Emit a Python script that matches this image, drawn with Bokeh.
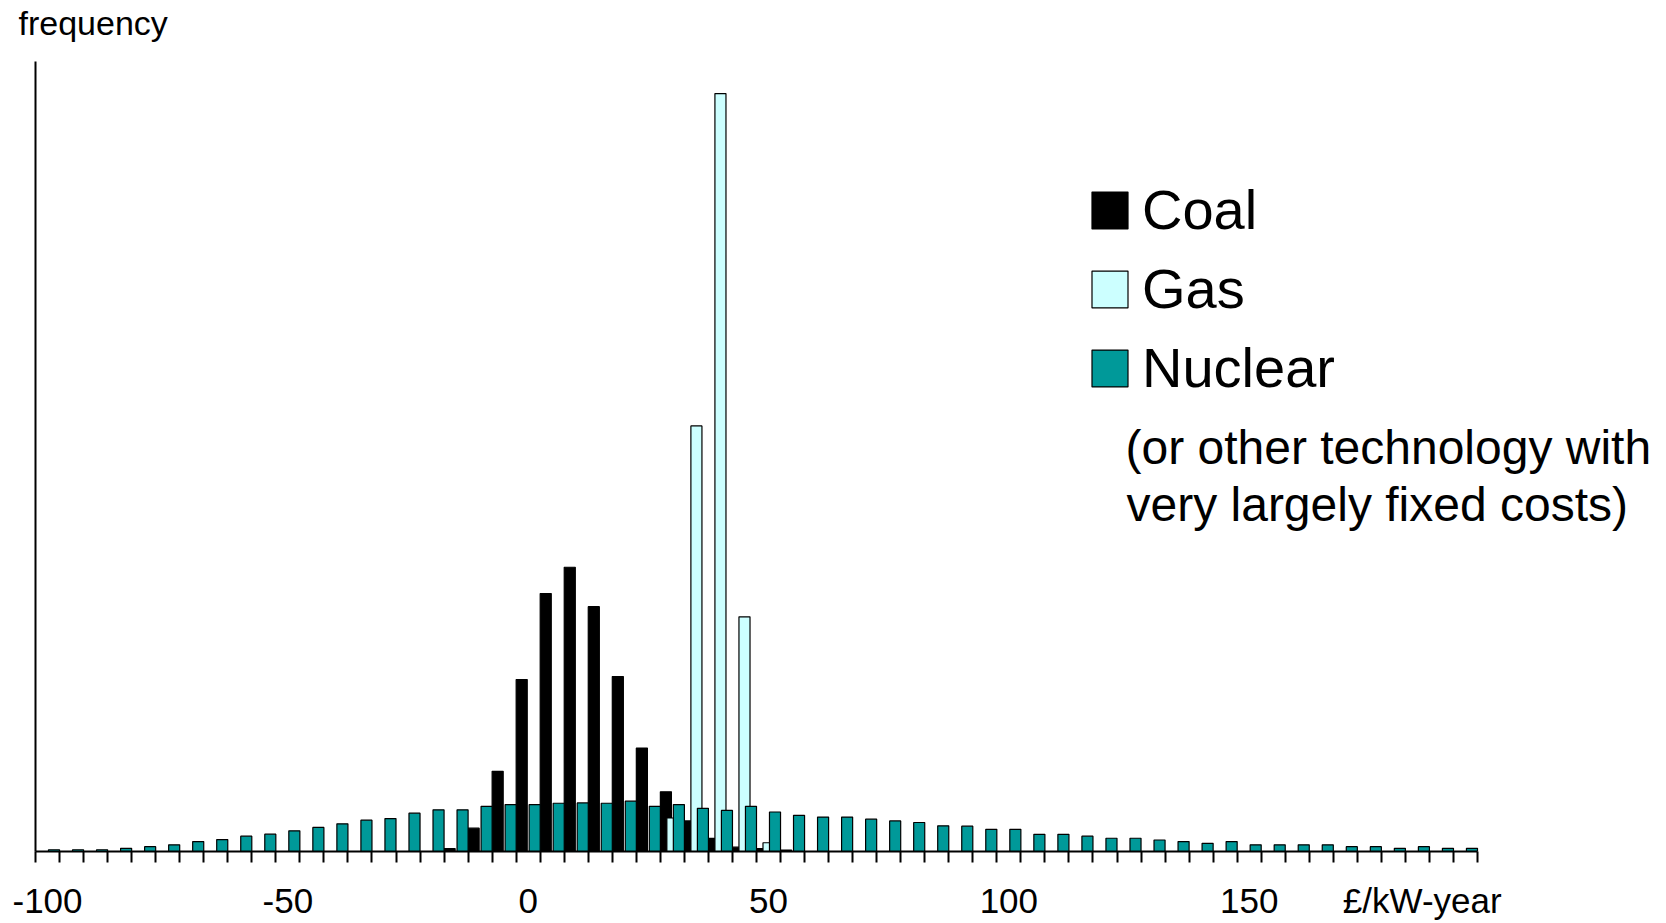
from bokeh.plotting import figure
from bokeh.models import (ColumnDataSource, Range1d, LinearAxis, FixedTicker,
                          Legend, LegendItem, Label)
from bokeh.transform import dodge
from bokeh.embed import file_html
from bokeh.resources import INLINE

# ---- data (frequency, % of cases per 5 £/kW-year bin) ----
bins = [-100, -95, -90, -85, -80, -75, -70, -65, -60, -55,
        -50, -45, -40, -35, -30, -25, -20, -15, -10, -5,
        0, 5, 10, 15, 20, 25, 30, 35, 40, 45,
        50, 55, 60, 65, 70, 75, 80, 85, 90, 95,
        100, 105, 110, 115, 120, 125, 130, 135, 140, 145,
        150, 155, 160, 165, 170, 175, 180, 185, 190, 195]

coal = [0, 0, 0, 0, 0, 0, 0, 0, 0, 0,
        0, 0, 0, 0, 0, 0, 0, 0.2, 1.6, 5.5,
        11.8, 17.7, 19.5, 16.8, 12.0, 7.1, 4.1, 2.1, 0.9, 0.3,
        0.2, 0.1, 0, 0, 0, 0, 0, 0, 0, 0,
        0, 0, 0, 0, 0, 0, 0, 0, 0, 0,
        0, 0, 0, 0, 0, 0, 0, 0, 0, 0]

gas = [0, 0, 0, 0, 0, 0, 0, 0, 0, 0,
       0, 0, 0, 0, 0, 0, 0, 0, 0, 0,
       0, 0, 0, 0, 0, 0, 2.3, 29.2, 52.0, 16.1,
       0.6, 0, 0, 0, 0, 0, 0, 0, 0, 0,
       0, 0, 0, 0, 0, 0, 0, 0, 0, 0,
       0, 0, 0, 0, 0, 0, 0, 0, 0, 0]

nuclear = [0.12, 0.12, 0.12, 0.22, 0.33, 0.46, 0.68, 0.82, 1.05, 1.19,
           1.42, 1.65, 1.90, 2.15, 2.26, 2.63, 2.86, 2.86, 3.10, 3.22,
           3.22, 3.31, 3.33, 3.31, 3.45, 3.10, 3.22, 2.96, 2.82, 3.10,
           2.71, 2.48, 2.36, 2.36, 2.22, 2.10, 1.99, 1.76, 1.74, 1.52,
           1.52, 1.18, 1.18, 1.05, 0.91, 0.91, 0.79, 0.68, 0.56, 0.68,
           0.46, 0.46, 0.46, 0.46, 0.33, 0.33, 0.22, 0.33, 0.22, 0.22]

tick_labels = [-100, -50, 0, 50, 100, 150]
unit_tick = 186
unit_label = "£/kW-year"
ylabel_tick = -90.5
ylabel_text = "frequency"
series_names = ["Coal", "Gas", "Nuclear"]
series_colors = ["#000000", "#CCFFFF", "#009999"]
note_lines = ["(or other technology with", "very largely fixed costs)"]

FONT = "Liberation Sans"
BIN = 5.0

W, H = 1666, 923
LEFT, RIGHT, TOP, BOTTOM = 35, 8, 60, 72
AXIS_PX = 1442.0  # pixel length of the drawn x axis (60 bins)

x_start = bins[0] - BIN / 2
x_stop = bins[-1] + BIN / 2
px_per_unit = AXIS_PX / (x_stop - x_start)
x_end = x_start + (W - LEFT - RIGHT) / px_per_unit

src = ColumnDataSource(dict(bin=bins, coal=coal, gas=gas, nuclear=nuclear))

p = figure(width=W, height=H, output_backend="svg", toolbar_location=None,
           x_range=Range1d(x_start, x_end),
           y_range=Range1d(0, 54.2),
           x_axis_type=None, y_axis_type=None,
           min_border_left=LEFT, min_border_right=RIGHT,
           min_border_top=TOP, min_border_bottom=BOTTOM)
p.outline_line_color = None
p.background_fill_color = "white"
p.border_fill_color = "white"

bw = 0.46 * BIN
off = 0.27 * BIN
renderers = []
for col, dx, color in zip(["coal", "gas", "nuclear"], [-off, 0, off], series_colors):
    r = p.vbar(x=dodge("bin", dx), top=col, width=bw, bottom=0, source=src,
               fill_color=color, line_color="black", line_width=1.2)
    renderers.append(r)

# x axis: bin boundaries as tick marks, labels every 50, unit label at the end
boundaries = [b - BIN / 2 for b in bins] + [x_stop]
xaxis = LinearAxis(ticker=FixedTicker(ticks=tick_labels + [unit_tick], minor_ticks=boundaries),
                   bounds=(x_start, x_stop))
overrides = {t: str(t) for t in tick_labels}
overrides[unit_tick] = unit_label
xaxis.major_label_overrides = overrides
xaxis.axis_line_width = 2
xaxis.axis_line_color = "black"
xaxis.major_tick_in = 0
xaxis.major_tick_out = 0
xaxis.minor_tick_in = 0
xaxis.minor_tick_out = 11
xaxis.minor_tick_line_width = 2
xaxis.minor_tick_line_color = "black"
xaxis.major_label_text_font = FONT
xaxis.major_label_text_font_size = "35px"
xaxis.major_label_text_color = "black"
xaxis.major_label_standoff = 18
p.add_layout(xaxis, "below")

yaxis = LinearAxis(ticker=FixedTicker(ticks=[]))
yaxis.axis_line_width = 2
yaxis.axis_line_color = "black"
yaxis.major_tick_in = 0
yaxis.major_tick_out = 0
yaxis.minor_tick_in = 0
yaxis.minor_tick_out = 0
yaxis.major_label_text_font_size = "0px"
p.add_layout(yaxis, "left")

# "frequency" caption above the top of the y axis (label-only axis, no line)
top_axis = LinearAxis(ticker=FixedTicker(ticks=[ylabel_tick]),
                      major_label_overrides={ylabel_tick: ylabel_text})
top_axis.axis_line_color = None
top_axis.major_tick_in = 0
top_axis.major_tick_out = 0
top_axis.minor_tick_in = 0
top_axis.minor_tick_out = 0
top_axis.major_label_text_font = FONT
top_axis.major_label_text_font_size = "34px"
top_axis.major_label_text_color = "black"
top_axis.major_label_standoff = 20
p.add_layout(top_axis, "above")

legend = Legend(items=[LegendItem(label=n, renderers=[r]) for n, r in zip(series_names, renderers)],
                location=(1052, 451), glyph_width=45, glyph_height=46,
                label_text_font=FONT, label_text_font_size="56px", label_text_color="black",
                label_standoff=10, spacing=14, padding=10,
                border_line_color=None, background_fill_alpha=0)
p.add_layout(legend)

for txt, xs, ys in zip(note_lines, [1090, 1091], [404, 347]):
    p.add_layout(Label(x=xs, y=ys, x_units="screen", y_units="screen",
                       text=txt, text_font=FONT, text_font_size="48px",
                       text_baseline="middle", text_color="black"))

open("out.html", "w").write(file_html(p, INLINE))
